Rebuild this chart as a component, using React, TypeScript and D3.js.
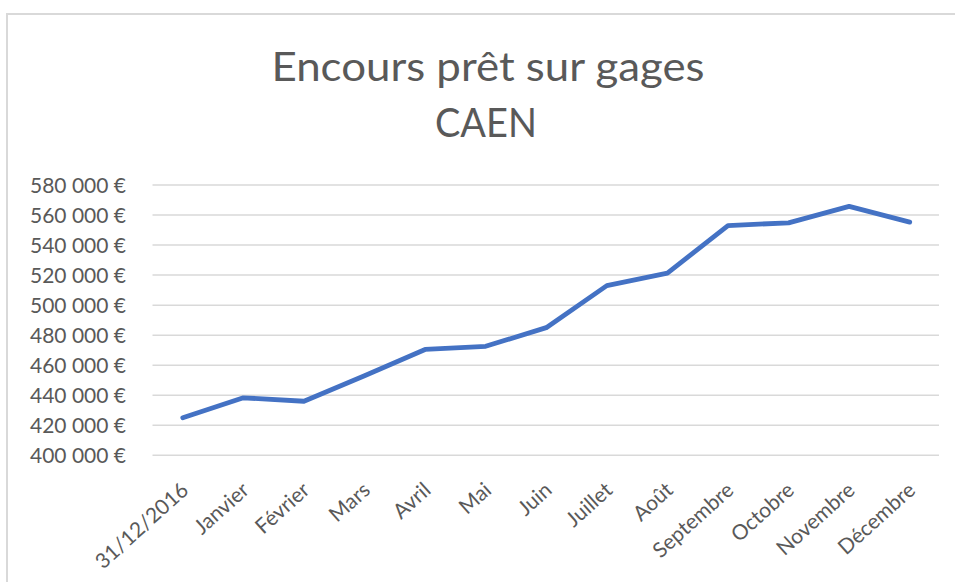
import React from "react";
import * as d3 from "d3";

const categories = [
  "31/12/2016", "Janvier", "Février", "Mars", "Avril", "Mai", "Juin",
  "Juillet", "Août", "Septembre", "Octobre", "Novembre", "Décembre",
];
const values = [
  425000, 438300, 436000, 453000, 470500, 472600, 485000,
  513000, 521300, 553000, 554800, 565800, 555300,
];
const yTicks = [400000, 420000, 440000, 460000, 480000, 500000, 520000, 540000, 560000, 580000];
const titleLines = ["Encours prêt sur gages", "CAEN"];

const W = 955;
const H = 582;
const plot = { left: 152.5, right: 940, top: 185, bottom: 455.3 };
const FONT = "Lato, 'Liberation Sans', Arial, sans-serif";
const TEXT = "#595959";

export default function App() {
  const x = d3.scaleBand<string>().domain(categories).range([plot.left, plot.right]);
  const y = d3.scaleLinear().domain([400000, 580000]).range([plot.bottom, plot.top]);
  const cx = (c: string) => (x(c) ?? 0) + x.bandwidth() / 2;
  const fmt = (v: number) => d3.format(",")(v).replace(/,/g, "\u00A0") + "\u00A0€";
  const line = d3
    .line<number>()
    .x((_, i) => cx(categories[i]))
    .y((d) => y(d));

  return (
    <svg
      width={W}
      height={H}
      style={{ position: "absolute", left: 0, top: 0, background: "#fff" }}
      fontFamily={FONT}
    >
      <rect x={0} y={0} width={W} height={H} fill="#fff" />
      <path d={`M7,${H + 5} L7,14 L${W + 5},14`} fill="none" stroke="#d9d9d9" strokeWidth={2} />

      <text x={488} y={81} textAnchor="middle" fontSize={41} fill={TEXT} textLength={433} lengthAdjust="spacingAndGlyphs">
        {titleLines[0]}
      </text>
      <text x={486} y={137} textAnchor="middle" fontSize={41} fill={TEXT} textLength={102} lengthAdjust="spacingAndGlyphs">
        {titleLines[1]}
      </text>

      {yTicks.map((t) => (
        <g key={t}>
          <line x1={plot.left} x2={plot.right - 1} y1={y(t)} y2={y(t)} stroke="#d9d9d9" strokeWidth={1.5} />
          <text x={126} y={y(t)} dy="0.36em" textAnchor="end" fontSize={21} fill={TEXT}>
            {fmt(t)}
          </text>
        </g>
      ))}

      {categories.map((c) => (
        <text
          key={c}
          transform={`translate(${cx(c) + 7},${492}) rotate(-42)`}
          textAnchor="end"
          fontSize={21}
          fill={TEXT}
        >
          {c}
        </text>
      ))}

      <path
        d={line(values) ?? ""}
        fill="none"
        stroke="#4472C4"
        strokeWidth={4.8}
        strokeLinecap="round"
        strokeLinejoin="round"
      />
    </svg>
  );
}
